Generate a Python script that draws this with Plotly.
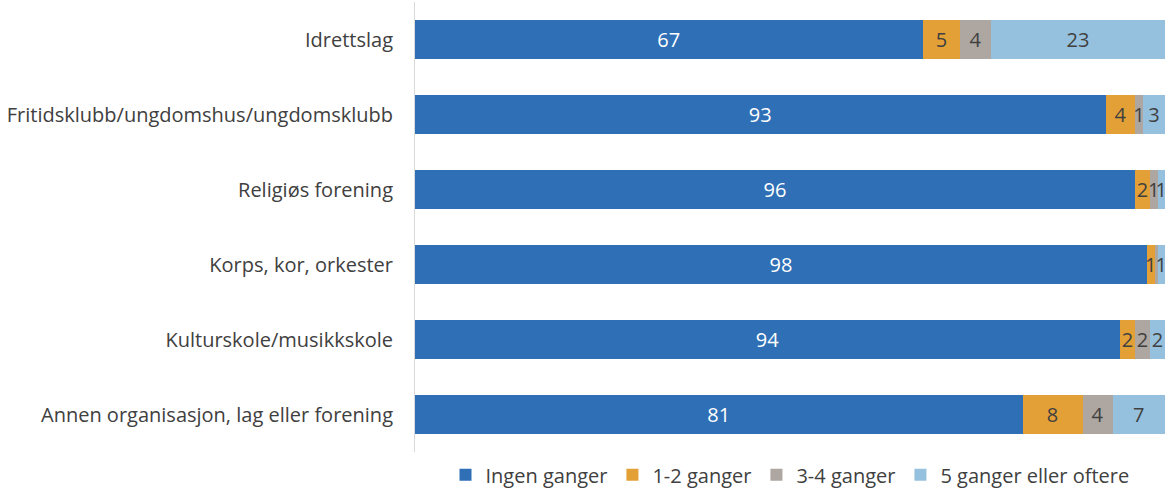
import plotly.graph_objects as go

categories = [
    "Idrettslag",
    "Fritidsklubb/ungdomshus/ungdomsklubb",
    "Religiøs forening",
    "Korps, kor, orkester",
    "Kulturskole/musikkskole",
    "Annen organisasjon, lag eller forening",
]
series_names = ["Ingen ganger", "1-2 ganger", "3-4 ganger", "5 ganger eller oftere"]
ingen = [67, 93, 96, 98, 94, 81]
en_to = [5, 4, 2, 1, 2, 8]
tre_fire = [4, 1, 1, 0.4, 2, 4]
fem_pluss = [23, 3, 1, 1, 2, 7]

colors = ["#2E6FB6", "#E3A037", "#ADA6A1", "#96C1DE"]
text_colors = ["#FFFFFF", "#404040", "#404040", "#404040"]
FONT = "Open Sans, Roboto, sans-serif"

all_series = [ingen, en_to, tre_fire, fem_pluss]
totals = [sum(s[i] for s in all_series) for i in range(len(categories))]

fig = go.Figure()
for name, vals, col, tcol in zip(series_names, all_series, colors, text_colors):
    shares = [v / t * 100 for v, t in zip(vals, totals)]
    labels = [str(int(round(v))) if round(v) > 0 else "" for v in vals]
    fig.add_trace(go.Bar(
        y=categories, x=shares, name=name, orientation="h",
        marker=dict(color=col, line=dict(width=0)),
        text=labels, textposition="inside", insidetextanchor="middle",
        textangle=0, textfont=dict(color=tcol, size=20, family=FONT),
        hovertemplate="%{y}: %{text}<extra>" + name + "</extra>",
    ))

fig.update_layout(
    barmode="stack",
    width=1168, height=488,
    margin=dict(l=415, r=3, t=2, b=36, autoexpand=False),
    bargap=0.49,
    paper_bgcolor="white", plot_bgcolor="white",
    font=dict(family=FONT, size=20, color="#404040"),
    uniformtext=dict(minsize=20, mode="show"),
    showlegend=True,
    legend=dict(orientation="h", x=0.5, xanchor="center", y=-0.094, yanchor="bottom",
                font=dict(size=20, color="#404040"), itemwidth=30,
                traceorder="normal"),
)
fig.update_xaxes(range=[0, 100], showticklabels=False, showgrid=False, zeroline=False, showline=False)
fig.update_yaxes(autorange="reversed", showgrid=False, showline=True, linecolor="#D9D9D9",
                 linewidth=1, ticks="", ticklabelstandoff=17)

fig.write_html(
    "out.html",
    config={"displayModeBar": False},
    post_script="document.body.style.margin='0';document.body.style.overflow='hidden';",
)
